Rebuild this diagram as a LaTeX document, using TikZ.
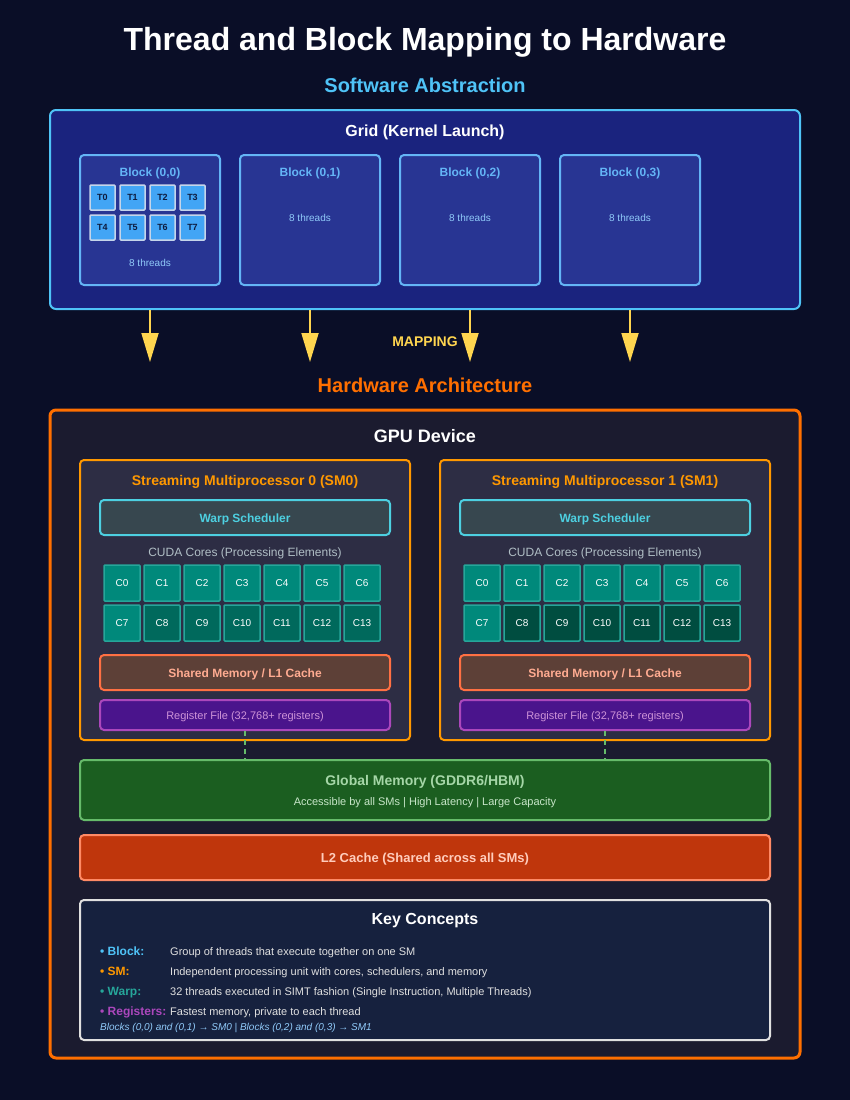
\documentclass[tikz,border=0pt]{standalone}
\usepackage{fontspec}
\setmainfont{Liberation Sans}
\usetikzlibrary{arrows.meta}

\definecolor{pagebg}{HTML}{0A0E27}
\definecolor{gridfill}{HTML}{1A237E}
\definecolor{gridedge}{HTML}{4FC3F7}
\definecolor{blockfill}{HTML}{283593}
\definecolor{blockedge}{HTML}{64B5F6}
\definecolor{blocknote}{HTML}{90CAF9}
\definecolor{threadfill}{HTML}{42A5F5}
\definecolor{threadedge}{HTML}{C5D5EA}
\definecolor{threadtext}{HTML}{0D1B3E}
\definecolor{mapyellow}{HTML}{FFD54F}
\definecolor{hworange}{HTML}{FF6F00}
\definecolor{gpufill}{HTML}{1B1B2F}
\definecolor{smfill}{HTML}{2D2D44}
\definecolor{smedge}{HTML}{FF9800}
\definecolor{warpfill}{HTML}{37474F}
\definecolor{warpedge}{HTML}{4DD0E1}
\definecolor{corelabel}{HTML}{B0BEC5}
\definecolor{coreteal}{HTML}{00897B}
\definecolor{coreedge}{HTML}{26A69A}
\definecolor{coredarkA}{HTML}{00695C}
\definecolor{coredarkB}{HTML}{004D40}
\definecolor{smemfill}{HTML}{5D4037}
\definecolor{smemedge}{HTML}{FF7043}
\definecolor{smemtext}{HTML}{FFAB91}
\definecolor{regfill}{HTML}{4A148C}
\definecolor{regedge}{HTML}{AB47BC}
\definecolor{regtext}{HTML}{CE93D8}
\definecolor{gmemfill}{HTML}{1B5E20}
\definecolor{gmemedge}{HTML}{66BB6A}
\definecolor{gmemtext}{HTML}{A5D6A7}
\definecolor{gmemnote}{HTML}{C8E6C9}
\definecolor{ltwofill}{HTML}{BF360C}
\definecolor{ltwoedge}{HTML}{FF8A65}
\definecolor{ltwotext}{HTML}{FFCCBC}
\definecolor{keyfill}{HTML}{16213E}
\definecolor{keyedge}{HTML}{E0E0E0}

\newcommand{\fs}[1]{\fontsize{#1}{#1}\selectfont}

\begin{document}
\begin{tikzpicture}[x=1pt,y=-1pt,
  panel/.style={draw, rounded corners=4pt, line width=2pt, inner sep=0pt},
  txt/.style={yshift=-2pt},
  thread/.style={draw=threadedge, fill=threadfill, line width=1.5pt, rounded corners=1pt,
    minimum width=25pt, minimum height=25pt, inner sep=0pt, text=threadtext, font=\fs{9}\bfseries},
  core/.style={draw=coreedge, line width=1.5pt, rounded corners=1pt,
    minimum width=36pt, minimum height=36pt, inner sep=0pt, text=white, font=\fs{10}},
  maparrow/.style={draw=mapyellow, line width=1.8pt, -{Triangle[length=29pt,width=17pt,fill=mapyellow]}},
  memlink/.style={draw=gmemedge, line width=1.5pt, dash pattern=on 5pt off 4pt},
  keyname/.style={anchor=base west, inner sep=0pt, font=\fs{12}\bfseries},
  keytext/.style={anchor=base west, inner sep=0pt, text=keyedge, font=\fs{11}}]

 \fill[pagebg] (0,0) rectangle (850,1100);
 \useasboundingbox (0,0) rectangle (850,1100);

 \node[txt, text=white, font=\fs{32}\bfseries] (title) at (425,40)
     {Thread and Block Mapping to Hardware};

 \node[txt, text=gridedge, font=\fs{20}\bfseries] (swtitle) at (425,83)
     {Software Abstraction};

 \node[panel, draw=gridedge, fill=gridfill, rounded corners=6pt,
       minimum width=750pt, minimum height=199pt] (grid) at (425,209.5) {};
 \node[txt, text=white, font=\fs{16}\bfseries] (gridtitle) at (425,130)
     {Grid (Kernel Launch)};

 \foreach \i in {0,...,3} {
   \node[panel, draw=blockedge, fill=blockfill,
         minimum width=140pt, minimum height=130pt] (blk\i) at ({150+160*\i},220) {};
   \node[txt, text=blockedge, font=\fs{12}\bfseries] (blktitle\i) at ({150+160*\i},171)
       {Block (0,\i)};
 }

 \foreach \row in {0,1} {
   \foreach \col in {0,...,3} {
     \pgfmathtruncatemacro\t{4*\row+\col}
     \node[thread] (t\t) at ({102.5+30*\col},{197.5+30*\row}) {T\t};
   }
 }

 \node[txt, text=blocknote, font=\fs{10}] (note0) at (150,261) {8 threads};
 \node[txt, text=blocknote, font=\fs{10}] (note1) at (310,216) {8 threads};
 \node[txt, text=blocknote, font=\fs{10}] (note2) at (470,216) {8 threads};
 \node[txt, text=blocknote, font=\fs{10}] (note3) at (630,216) {8 threads};

 \foreach \i in {0,...,3}
   \coordinate (hw\i) at ({150+160*\i},362);
 \foreach \i in {0,...,3}
   \draw[maparrow] (blk\i |- grid.south) -- (hw\i);

 \node[txt, text=mapyellow, font=\fs{14}\bfseries] (mapping) at (425,340) {MAPPING};

 \node[txt, text=hworange, font=\fs{20}\bfseries] (hwtitle) at (425,383)
     {Hardware Architecture};

 \node[panel, draw=hworange, fill=gpufill, line width=3pt, rounded corners=6pt,
       minimum width=750pt, minimum height=648pt] (gpu) at (425,734) {};
 \node[txt, text=white, font=\fs{18}\bfseries] (gputitle) at (425,434) {GPU Device};

 \foreach \s/\dx/\dark in {0/0/coredarkA, 1/360/coredarkB} {
   \node[panel, draw=smedge, fill=smfill,
         minimum width=330pt, minimum height=280pt] (sm\s) at ({245+\dx},600) {};
   \node[txt, text=smedge, font=\fs{14}\bfseries] (smtitle\s) at ({245+\dx},480)
       {Streaming Multiprocessor \s\ (SM\s)};
   \node[panel, draw=warpedge, fill=warpfill, minimum width=290pt, minimum height=35pt]
       (warp\s) at ({245+\dx},517.5) {};
   \node[txt, text=warpedge, font=\fs{12}\bfseries] (warptxt\s) at (warp\s) {Warp Scheduler};
   \node[txt, text=corelabel, font=\fs{12}] (cores\s) at ({245+\dx},551)
       {CUDA Cores (Processing Elements)};
   \foreach \row in {0,1} {
     \foreach \col in {0,...,6} {
       \pgfmathtruncatemacro\c{7*\row+\col}
       \ifnum\c<8 \def\cf{coreteal}\else\edef\cf{\dark}\fi
       \node[core, fill=\cf] (c\s-\c) at ({122+40*\col+\dx},{583+40*\row}) {C\c};
     }
   }
   \node[panel, draw=smemedge, fill=smemfill, minimum width=290pt, minimum height=35pt]
       (smem\s) at ({245+\dx},672.5) {};
   \node[txt, text=smemtext, font=\fs{12}\bfseries] (smemtxt\s) at (smem\s)
       {Shared Memory / L1 Cache};
   \node[panel, draw=regedge, fill=regfill, minimum width=290pt, minimum height=30pt]
       (reg\s) at ({245+\dx},715) {};
   \node[txt, text=regtext, font=\fs{11}] (regtxt\s) at (reg\s)
       {Register File (32,768+ registers)};
 }

 \node[panel, draw=gmemedge, fill=gmemfill,
       minimum width=690pt, minimum height=60pt] (gmem) at (425,790) {};
 \node[txt, text=gmemtext, font=\fs{14}\bfseries] (gmemtitle) at (425,780)
     {Global Memory (GDDR6/HBM)};
 \node[txt, text=gmemnote, font=\fs{11}] (gmemnote) at (425,801)
     {Accessible by all SMs | High Latency | Large Capacity};

 \draw[memlink] (reg0.south) -- (gmem.north -| reg0.south);
 \draw[memlink] (reg1.south) -- (gmem.north -| reg1.south);

 \node[panel, draw=ltwoedge, fill=ltwofill, minimum width=690pt, minimum height=45pt]
     (ltwo) at (425,857.5) {};
 \node[txt, text=ltwotext, font=\fs{13}\bfseries] (ltwotxt) at (ltwo)
     {L2 Cache (Shared across all SMs)};

 \node[panel, draw=keyedge, fill=keyfill,
       minimum width=690pt, minimum height=140pt] (key) at (425,970) {};
 \node[txt, text=white, font=\fs{16}\bfseries] (keytitle) at (425,919) {Key Concepts};

 \node[keyname, text=gridedge] (kblock) at (100,955) {• Block:};
 \node[keytext] (kblocktxt) at (170,955) {Group of threads that execute together on one SM};
 \node[keyname, text=smedge] (ksm) at (100,975) {• SM:};
 \node[keytext] (ksmtxt) at (170,975) {Independent processing unit with cores, schedulers, and memory};
 \node[keyname, text=coreedge] (kwarp) at (100,995) {• Warp:};
 \node[keytext] (kwarptxt) at (170,995) {32 threads executed in SIMT fashion (Single Instruction, Multiple Threads)};
 \node[keyname, text=regedge] (kreg) at (100,1015) {• Registers:};
 \node[keytext] (kregtxt) at (170,1015) {Fastest memory, private to each thread};
 \node[anchor=base west, inner sep=0pt, text=blocknote, font=\fs{10}\itshape] (kmap) at (100,1030.5)
     {Blocks (0,0) and (0,1) → SM0 | Blocks (0,2) and (0,3) → SM1};

\end{tikzpicture}
\end{document}
